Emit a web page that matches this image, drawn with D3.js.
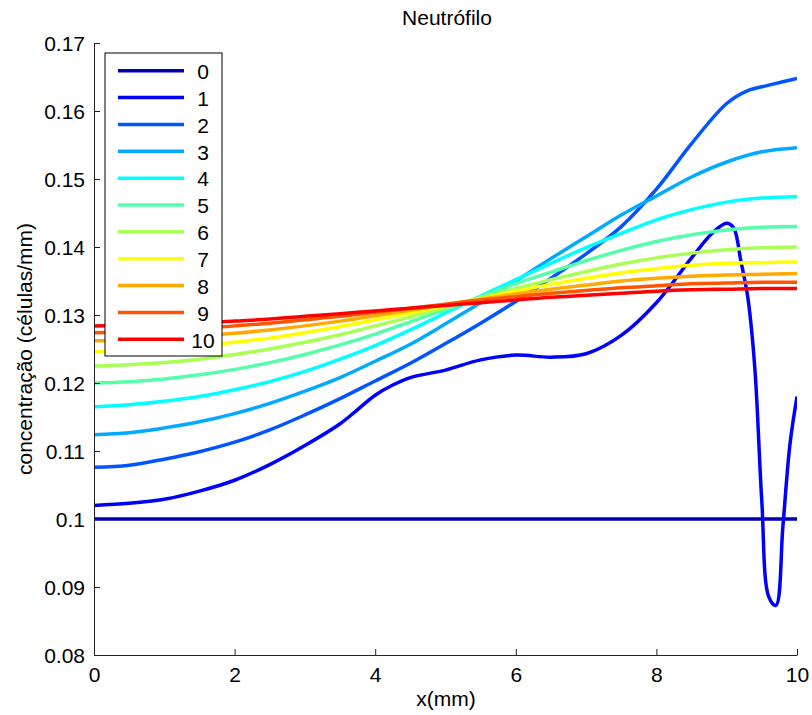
<!DOCTYPE html>
<html><head><meta charset="utf-8">
<script src="https://cdn.jsdelivr.net/npm/d3@7"></script>
<style>
body{margin:0;background:#fff;}
text{font-family:"Liberation Sans",Arial,Helvetica,sans-serif;}
</style></head>
<body><svg id="c" width="812" height="715"></svg>
<script>
const title = "Neutrófilo";
const xLabel = "x(mm)";
const yLabel = "concentração (células/mm)";
const seriesNames = ["0","1","2","3","4","5","6","7","8","9","10"];
const xTickValues = [0,2,4,6,8,10];
const xTickLabels = ["0","2","4","6","8","10"];
const yTickValues = [0.08,0.09,0.10,0.11,0.12,0.13,0.14,0.15,0.16,0.17];
const yTickLabels = ["0.08","0.09","0.1","0.11","0.12","0.13","0.14","0.15","0.16","0.17"];
const colors = ["#0000aa","#0000ff","#0055ff","#00aaff","#00ffff","#55ffaa","#aaff55","#ffff00","#ffaa00","#ff5500","#ff0000"];

const xs = [0,0.5,1,1.5,2,2.5,3,3.5,4,4.5,5,5.5,6,6.5,7,7.5,8,8.5,9,9.5,10];
const xs1 = [0,0.5,1,1.5,2,2.5,3,3.5,3.75,4,4.25,4.5,5,5.5,6,6.5,7,7.5,8,8.5,8.8,9.0,9.1,9.2,9.3,9.4,9.5,9.6,9.7,9.8,9.9,10];
const xs2 = [0,0.5,1,1.5,2,2.5,3,3.5,4,4.5,5,5.5,6,6.5,7,7.5,8,8.5,9,9.3,9.6,10];

const s0 = [0.1,0.1,0.1,0.1,0.1,0.1,0.1,0.1,0.1,0.1,0.1,0.1,0.1,0.1,0.1,0.1,0.1,0.1,0.1,0.1,0.1];
const s1 = [0.1020,0.1023,0.1029,0.1041,0.1057,0.1080,0.1108,0.1140,0.1161,0.1182,0.1197,0.1208,0.1219,0.1234,0.1241,0.1238,0.1243,0.1270,0.1318,0.1384,0.1421,0.1435,0.1428,0.1380,0.1326,0.1222,0.1025,0.0885,0.0873,0.0990,0.1110,0.1180];
const s2 = [0.1076,0.1079,0.1088,0.1099,0.1113,0.1131,0.1153,0.1177,0.1203,0.1229,0.1258,0.1288,0.1320,0.1354,0.1390,0.1430,0.1485,0.1552,0.1611,0.1630,0.1638,0.1648];
const s3 = [0.1124,0.1127,0.1134,0.1143,0.1155,0.1170,0.1188,0.1208,0.1232,0.1257,0.1287,0.1318,0.1350,0.1383,0.1415,0.1447,0.1475,0.1503,0.1525,0.1540,0.1546];
const s4 = [0.1165,0.1168,0.1173,0.1180,0.1190,0.1202,0.1217,0.1235,0.1255,0.1278,0.1303,0.1328,0.1352,0.1376,0.1399,0.1420,0.1440,0.1455,0.1466,0.1472,0.1474];
const s5 = [0.1200,0.1202,0.1206,0.1212,0.1220,0.1230,0.1242,0.1256,0.1272,0.1290,0.1308,0.1327,0.1346,0.1363,0.1380,0.1395,0.1408,0.1418,0.1425,0.1429,0.1430];
const s6 = [0.1225,0.1227,0.1230,0.1235,0.1242,0.1250,0.1260,0.1271,0.1284,0.1297,0.1311,0.1325,0.1339,0.1352,0.1364,0.1375,0.1384,0.1391,0.1396,0.1399,0.1400];
const s7 = [0.1246,0.1247,0.1250,0.1254,0.1260,0.1266,0.1274,0.1283,0.1293,0.1303,0.1314,0.1324,0.1335,0.1345,0.1354,0.1362,0.1368,0.1373,0.1376,0.1377,0.1378];
const s8 = [0.1262,0.1263,0.1265,0.1269,0.1273,0.1278,0.1284,0.1291,0.1299,0.1307,0.1315,0.1323,0.1331,0.1338,0.1344,0.1350,0.1354,0.1357,0.1359,0.1360,0.1361];
const s9 = [0.1274,0.1275,0.1277,0.1280,0.1284,0.1288,0.1293,0.1298,0.1304,0.1310,0.1316,0.1322,0.1327,0.1332,0.1336,0.1340,0.1343,0.1346,0.1347,0.1348,0.1348];
const s10 = [0.1284,0.1285,0.1286,0.1288,0.1291,0.1294,0.1298,0.1302,0.1306,0.1310,0.1314,0.1318,0.1322,0.1326,0.1329,0.1332,0.1335,0.1337,0.1338,0.1339,0.1339];

const seriesX = [xs,xs1,xs2,xs,xs,xs,xs,xs,xs,xs,xs];
const seriesY = [s0,s1,s2,s3,s4,s5,s6,s7,s8,s9,s10];

const svg = d3.select("#c");
const L=94, R=797, T=43, B=655;
const x = d3.scaleLinear().domain([0,10]).range([L,R]);
const y = d3.scaleLinear().domain([0.08,0.17]).range([B,T]);

svg.append("defs").append("clipPath").attr("id","clip")
  .append("rect").attr("x",L).attr("y",T).attr("width",R-L).attr("height",B-T);

const line = d3.line().x(d=>x(d[0])).y(d=>y(d[1])).curve(d3.curveCatmullRom.alpha(0.5));
const g = svg.append("g").attr("clip-path","url(#clip)");
seriesY.forEach((vals,i)=>{
  const pts = vals.map((v,j)=>[seriesX[i][j], v]);
  g.append("path").attr("d",line(pts)).attr("fill","none")
   .attr("stroke",colors[i]).attr("stroke-width",3.5).attr("stroke-linejoin","round");
});

const fs = 21;
const ax = svg.append("g").attr("transform",`translate(${L},0)`)
  .call(d3.axisLeft(y).tickValues(yTickValues).tickFormat((d,i)=>yTickLabels[i]).tickSizeInner(-6).tickSizeOuter(0).tickPadding(9));
const bx = svg.append("g").attr("transform",`translate(0,${B})`)
  .call(d3.axisBottom(x).tickValues(xTickValues).tickFormat((d,i)=>xTickLabels[i]).tickSizeInner(-6).tickSizeOuter(0).tickPadding(12));
[ax,bx].forEach(a=>{
  a.selectAll("text").attr("font-size",fs).attr("fill","#000").attr("font-family",'"Liberation Sans",Arial,sans-serif');
  a.selectAll("line").attr("stroke","#222");
  a.select(".domain").attr("stroke","#222");
});
ax.selectAll("text").attr("dy","0.36em");

svg.append("text").attr("x",447).attr("y",25).attr("text-anchor","middle").attr("font-size",fs).text(title);
svg.append("text").attr("x",446).attr("y",706).attr("text-anchor","middle").attr("font-size",fs).text(xLabel);
svg.append("text").attr("transform","translate(32,349) rotate(-90)").attr("text-anchor","middle").attr("font-size",fs).text(yLabel);

// legend
const lg = svg.append("g");
lg.append("rect").attr("x",105).attr("y",53).attr("width",117).attr("height",303)
  .attr("fill","#fff").attr("stroke","#000").attr("stroke-width",1);
seriesNames.forEach((n,i)=>{
  const yy = 70.7 + i*26.86;
  lg.append("line").attr("x1",118).attr("x2",184).attr("y1",yy).attr("y2",yy)
    .attr("stroke",colors[i]).attr("stroke-width",3.5);
  lg.append("text").attr("x",203).attr("y",yy+8.3).attr("text-anchor","middle").attr("font-size",fs).text(n);
});
</script></body></html>
